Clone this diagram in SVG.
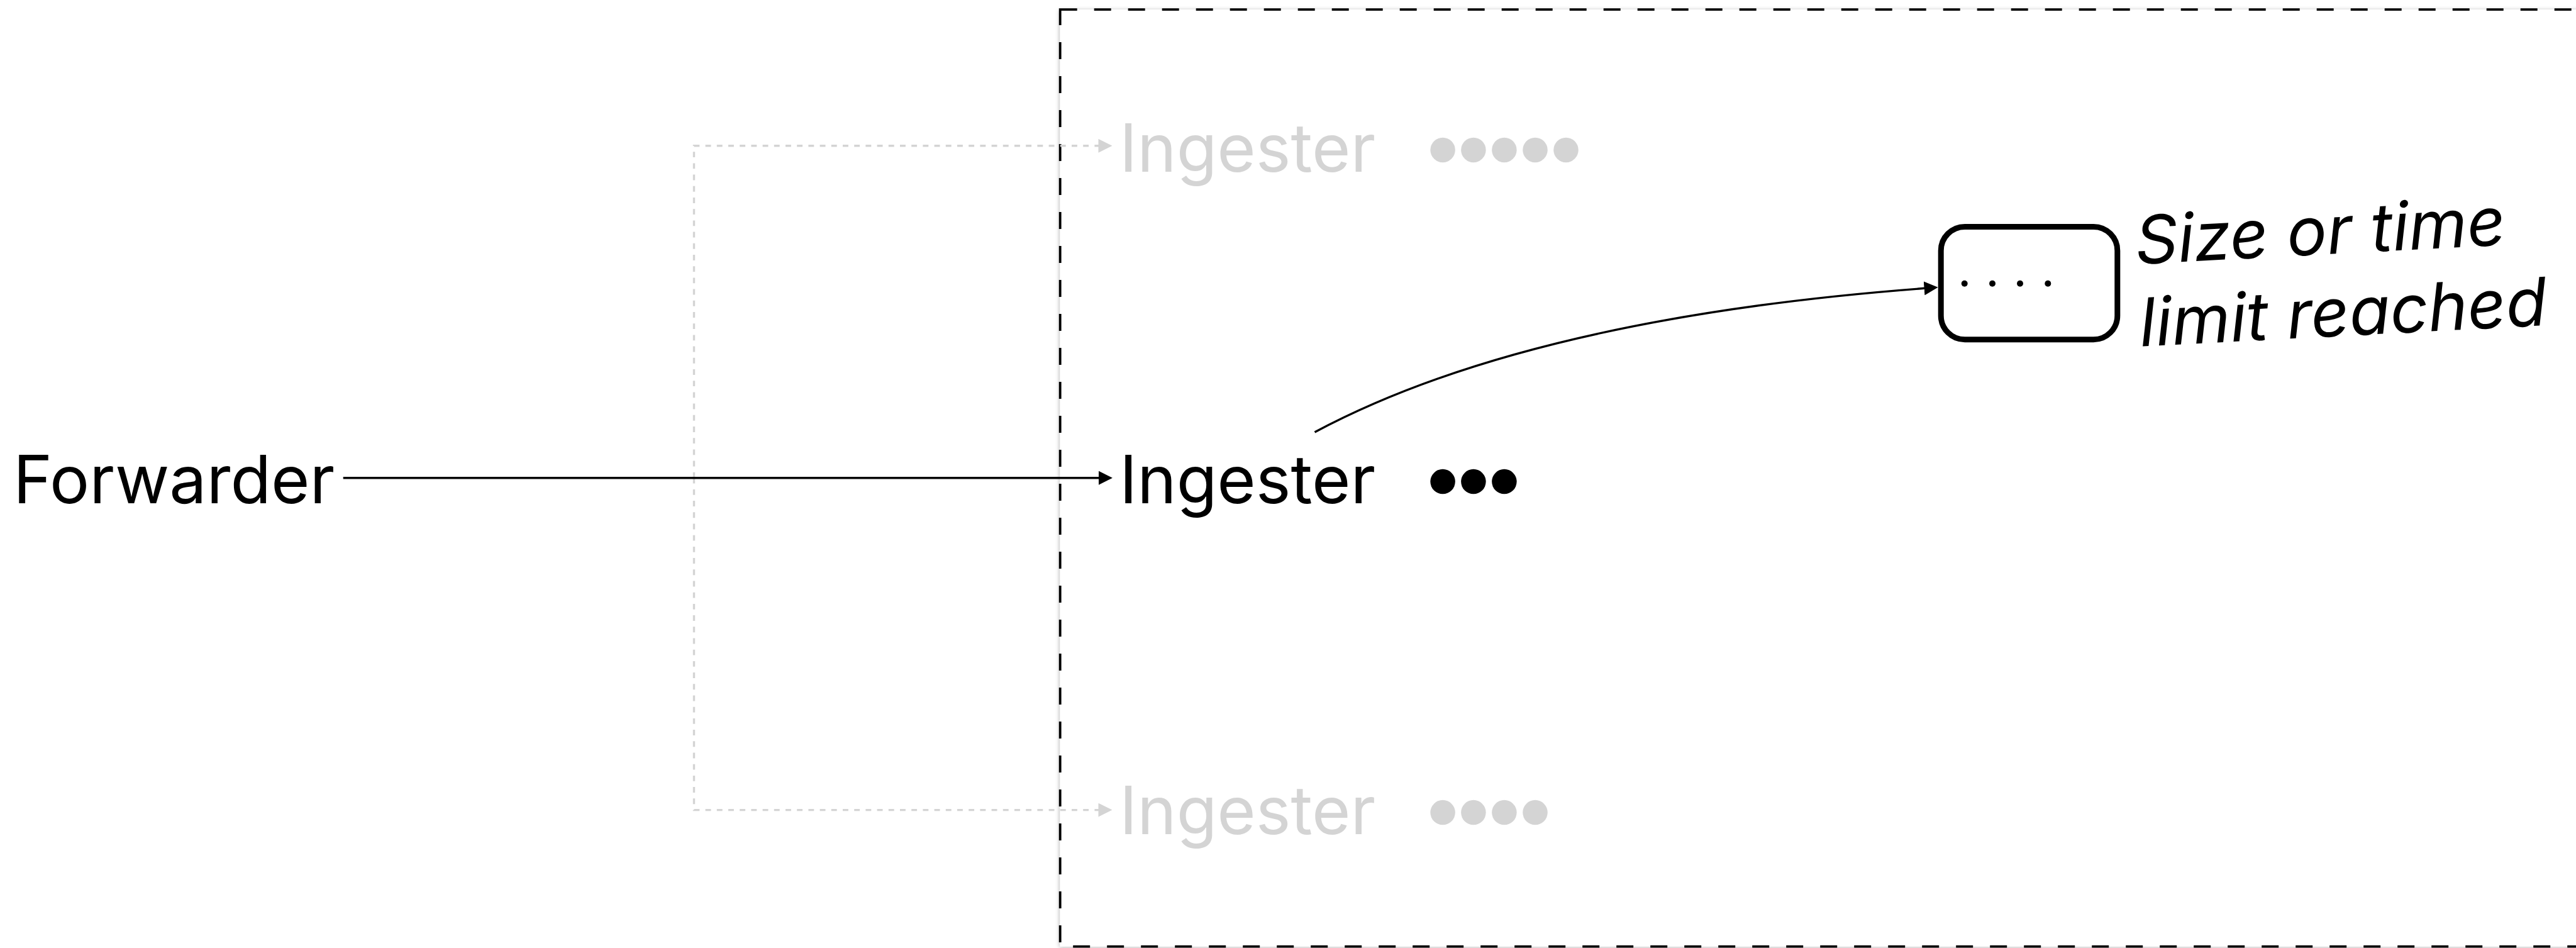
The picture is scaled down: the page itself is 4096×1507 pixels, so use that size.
<svg xmlns="http://www.w3.org/2000/svg" width="4096" height="1507" viewBox="0 0 4096 1507">
  <defs>
    <style>
      .label { font-family: Inter, "Liberation Sans", sans-serif; font-size: 105.5px; }
      .muted { fill: #d4d4d4; }
      .ink { fill: #000; }
      .note { font-family: Inter, "Liberation Sans", sans-serif; font-size: 106px; font-style: italic; fill: #000; }
      .flow { fill: none; stroke: #000; stroke-width: 3.4; }
      .flow-muted { fill: none; stroke: #d4d4d4; stroke-width: 3.4; stroke-dasharray: 8.9 9.3; }
      .pool { fill: #fff; stroke: #000; stroke-width: 3.8; stroke-dasharray: 27 27; }
      .buffer { fill: #fff; stroke: #000; stroke-width: 9; }
    </style>
    <marker id="head" markerUnits="userSpaceOnUse" markerWidth="22" markerHeight="22" viewBox="0 0 21 21" refX="11" refY="10.5" orient="auto">
      <path d="M0,0 L21,10.5 L0,21 z" fill="#000"/>
    </marker>
    <marker id="head-muted" markerUnits="userSpaceOnUse" markerWidth="22" markerHeight="22" viewBox="0 0 21 21" refX="11" refY="10.5" orient="auto">
      <path d="M0,0 L21,10.5 L0,21 z" fill="#d4d4d4"/>
    </marker>
    <filter id="shade" x="-2%" y="-2%" width="104%" height="104%">
      <feDropShadow dx="-1" dy="1" stdDeviation="3" flood-color="#000" flood-opacity="0.3"/>
    </filter>
  </defs>

  <!-- ingester pool boundary (open to the right) -->
  <g id="ingester-pool">
    <rect x="1685.7" y="15.1" width="2600" height="1489.5" fill="#fff" filter="url(#shade)"/>
    <rect class="pool" x="1685.7" y="15.1" width="2600" height="1489.5"/>
  </g>

  <!-- connectors -->
  <g id="connectors">
    <path class="flow-muted" d="M1103.5,759.7 V231.8 H1758" marker-end="url(#head-muted)"/>
    <path class="flow-muted" d="M1103.5,759.7 V1287.6 H1758" marker-end="url(#head-muted)"/>
    <path class="flow" d="M545.7,759.7 H1758.5" marker-end="url(#head)"/>
    <path class="flow" d="M2090.5,687 Q2432.3,504.2 3071.1,457.5" marker-end="url(#head)"/>
  </g>

  <g id="forwarder">
    <text class="label ink" x="21" y="800.3">Forwarder</text>
  </g>

  <g id="ingester-top">
    <text class="label muted" x="1780" y="273.3">Ingester</text>
    <g class="muted">
      <circle cx="2294.1" cy="238.4" r="19.75"/>
      <circle cx="2342.9" cy="238.4" r="19.75"/>
      <circle cx="2391.9" cy="238.4" r="19.75"/>
      <circle cx="2441" cy="238.4" r="19.75"/>
      <circle cx="2490" cy="238.4" r="19.75"/>
    </g>
  </g>

  <g id="ingester-active">
    <text class="label ink" x="1780" y="800.3">Ingester</text>
    <g class="ink">
      <circle cx="2294.1" cy="765.6" r="19.75"/>
      <circle cx="2342.9" cy="765.6" r="19.75"/>
      <circle cx="2391.9" cy="765.6" r="19.75"/>
    </g>
  </g>

  <g id="ingester-bottom">
    <text class="label muted" x="1780" y="1325.7">Ingester</text>
    <g class="muted">
      <circle cx="2294.1" cy="1291.6" r="19.75"/>
      <circle cx="2342.9" cy="1291.6" r="19.75"/>
      <circle cx="2391.9" cy="1291.6" r="19.75"/>
      <circle cx="2441" cy="1291.6" r="19.75"/>
    </g>
  </g>

  <g id="flush-buffer">
    <rect class="buffer" x="3086.2" y="360.4" width="280.6" height="179.4" rx="38" ry="38"/>
    <g class="ink">
      <circle cx="3123.7" cy="450.7" r="5"/>
      <circle cx="3168" cy="450.7" r="5"/>
      <circle cx="3212" cy="450.7" r="5"/>
      <circle cx="3256.3" cy="450.7" r="5"/>
    </g>
  </g>

  <g id="flush-note">
    <text class="note" transform="translate(3397,420) rotate(-3)">
      <tspan x="0" y="0">Size or time</tspan>
      <tspan x="0" y="131">limit reached</tspan>
    </text>
  </g>
</svg>
